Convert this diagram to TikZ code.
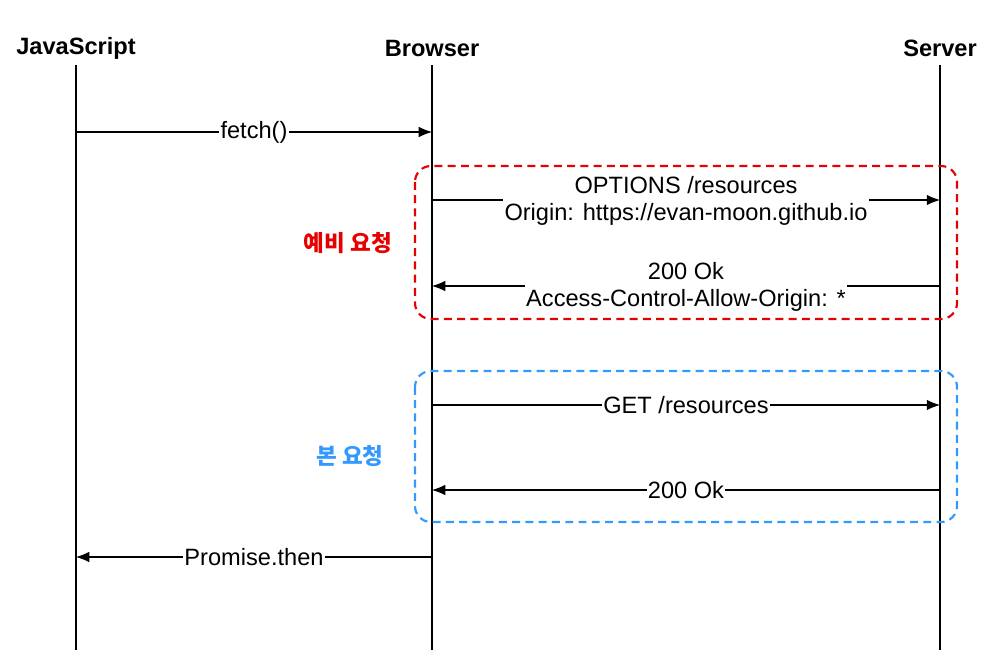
\documentclass[tikz,border=0pt]{standalone}
\usepackage{fontspec}
\setmainfont{Liberation Sans}
\newfontfamily\kor{Noto Sans CJK KR}
\usetikzlibrary{positioning,arrows.meta}
\definecolor{prered}{RGB}{230,0,0}
\definecolor{mainblue}{RGB}{51,153,255}
\begin{document}
\begin{tikzpicture}[x=0.0265cm, y=-0.0265cm, >={Latex[length=10pt,width=8pt]},
    every node/.style={font=\fontsize{17.8}{20.5}\selectfont},
    head/.style={font=\fontsize{17.8}{20.5}\selectfont\bfseries},
    msg/.style={->, line width=0.8pt},
    lbl/.style={fill=white, inner sep=1pt, align=center},
    box/.style={line width=1.6pt, rounded corners=12pt, dash pattern=on 6pt off 4pt}]
    \useasboundingbox (0,0) rectangle (982,669);
    % lifelines
    \node[head] (js) at (76,48) {JavaScript};
    \node[head] (br) at (432,48) {Browser};
    \node[head] (sv) at (940,48) {Server};
    \foreach \n/\x in {js/76, br/432, sv/940}
    {
        \coordinate (\n top) at (\x,65);
        \coordinate (\n bot) at (\x,650);
        \draw[line width=0.8pt] (\n top)--(\n bot);
    }
    % boxes
    \draw[box, prered] (415,166) rectangle (957,319);
    \draw[box, mainblue] (415,371) rectangle (957,522);
    \node[font=\fontsize{17}{20}\selectfont\kor\bfseries, text=prered] (pre) at (348,243) {예비 요청};
    \node[font=\fontsize{17}{20}\selectfont\kor\bfseries, text=mainblue] (main) at (350,456) {본 요청};
    % messages
    \coordinate (a1) at (76,132); \coordinate (a2) at (432,132);
    \draw[msg] (a1)--(a2) node[lbl, midway] {fetch()};
    \coordinate (b1) at (432,200); \coordinate (b2) at (940,200);
    \draw[msg] (b1)--(b2);
    \node[lbl] (opt) at (686,201) {OPTIONS /resources\\Origin: https://evan-moon.github.io};
    \coordinate (c1) at (940,286); \coordinate (c2) at (432,286);
    \draw[msg] (c1)--(c2);
    \node[lbl] (ok1) at (686,287) {200 Ok\\Access-Control-Allow-Origin: *};
    \coordinate (d1) at (432,405); \coordinate (d2) at (940,405);
    \draw[msg] (d1)--(d2) node[lbl, midway] {GET /resources};
    \coordinate (e1) at (940,490); \coordinate (e2) at (432,490);
    \draw[msg] (e1)--(e2) node[lbl, midway] {200 Ok};
    \coordinate (f1) at (432,557); \coordinate (f2) at (76,557);
    \draw[msg] (f1)--(f2) node[lbl, midway] {Promise.then};
\end{tikzpicture}
\end{document}
